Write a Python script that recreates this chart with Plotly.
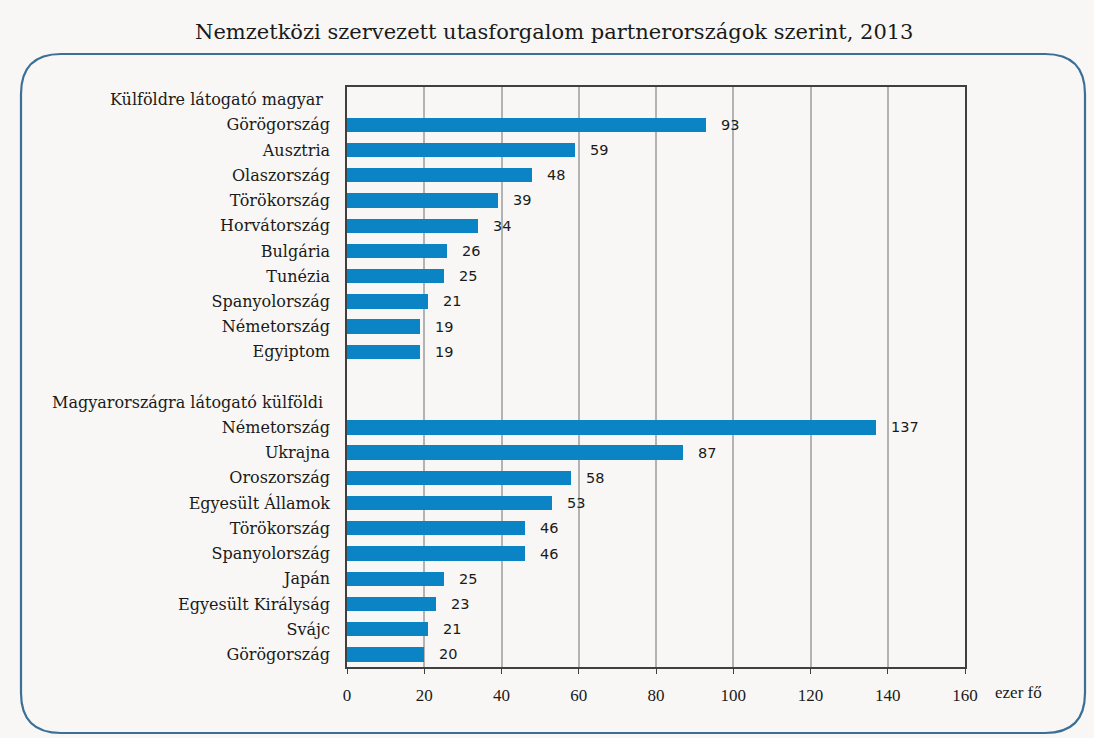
import plotly.graph_objects as go

title = "Nemzetközi szervezett utasforgalom partnerországok szerint, 2013"
group1_header = "Külföldre látogató magyar"
group1_countries = ["Görögország", "Ausztria", "Olaszország", "Törökország", "Horvátország",
                    "Bulgária", "Tunézia", "Spanyolország", "Németország", "Egyiptom"]
group1_values = [93, 59, 48, 39, 34, 26, 25, 21, 19, 19]
group2_header = "Magyarországra látogató külföldi"
group2_countries = ["Németország", "Ukrajna", "Oroszország", "Egyesült Államok", "Törökország",
                    "Spanyolország", "Japán", "Egyesült Királyság", "Svájc", "Görögország"]
group2_values = [137, 87, 58, 53, 46, 46, 25, 23, 21, 20]
x_ticks = [0, 20, 40, 60, 80, 100, 120, 140, 160]
unit_label = "ezer fő"

# row layout: header, countries..., blank, header, countries...
rows = [("h", group1_header, None)]
rows += [("c", c, v) for c, v in zip(group1_countries, group1_values)]
rows += [("b", "", None)]
rows += [("h", group2_header, None)]
rows += [("c", c, v) for c, v in zip(group2_countries, group2_values)]

bar_y = [i for i, r in enumerate(rows) if r[0] == "c"]
bar_x = [r[2] for r in rows if r[0] == "c"]
bar_lbl = [r[1] for r in rows if r[0] == "c"]
header_y = [i for i, r in enumerate(rows) if r[0] == "h"]
header_txt = [r[1] for r in rows if r[0] == "h"]

BG = "#f8f7f5"
TXT = "#1a1a1a"
BAR = "#0b84c6"

W, H = 1094, 738
L, R, T, B = 347, 129, 87, 71
PW, PH = W - L - R, H - T - B

def px(xp):
    return (xp - L) / PW

def py(yp):
    return (H - B - yp) / PH

fig = go.Figure()
fig.add_trace(go.Bar(
    x=bar_x, y=bar_y, orientation="h", marker=dict(color=BAR, line=dict(width=0)),
    width=0.57, hoverinfo="skip",
))

annotations = []
for xv, yv in zip(bar_x, bar_y):
    annotations.append(dict(x=xv, y=yv, xref="x", yref="y", text=str(xv), showarrow=False,
                            xanchor="left", yanchor="middle", xshift=13,
                            font=dict(family="DejaVu Sans", size=14.5, color=TXT)))
for t, yv in zip(header_txt, header_y):
    annotations.append(dict(x=px(325), y=yv, xref="paper", yref="y", text=t, showarrow=False,
                            xanchor="right", yanchor="middle",
                            font=dict(family="DejaVu Serif", size=16, color=TXT)))
annotations.append(dict(x=px(993), y=py(692), xref="paper", yref="paper", text=unit_label,
                        showarrow=False, xanchor="left", yanchor="middle",
                        font=dict(family="Liberation Serif", size=17, color=TXT)))
annotations.append(dict(x=px(554), y=py(32), xref="paper", yref="paper", text=title,
                        showarrow=False, xanchor="center", yanchor="middle",
                        font=dict(family="DejaVu Serif", size=21, color=TXT)))

# rounded frame
x0, x1 = px(21), px(1085)
y0, y1 = py(733), py(54)
rx, ry = 40 / PW, 40 / PH
path = (f"M {x0+rx},{y1} L {x1-rx},{y1} Q {x1},{y1} {x1},{y1-ry} "
        f"L {x1},{y0+ry} Q {x1},{y0} {x1-rx},{y0} L {x0+rx},{y0} "
        f"Q {x0},{y0} {x0},{y0+ry} L {x0},{y1-ry} Q {x0},{y1} {x0+rx},{y1} Z")

fig.update_layout(
    width=W, height=H, margin=dict(l=L, r=R, t=T, b=B),
    paper_bgcolor=BG, plot_bgcolor=BG, showlegend=False, bargap=0,
    annotations=annotations,
    shapes=[dict(type="path", path=path, xref="paper", yref="paper",
                 line=dict(color="#3b6f96", width=2.2), fillcolor="rgba(0,0,0,0)")],
    xaxis=dict(range=[0, 160], tickvals=x_ticks, showgrid=True, gridcolor="#b3b3b3",
               gridwidth=1.5, zeroline=False, showline=True, mirror=True,
               linecolor="#404040", linewidth=1.5, ticks="outside", ticklen=5,
               tickcolor="#404040", tickwidth=1, ticklabelstandoff=7,
               tickfont=dict(family="Liberation Serif", size=17, color=TXT), fixedrange=True),
    yaxis=dict(range=[len(rows) - 0.5, -0.5], tickvals=bar_y, ticktext=bar_lbl,
               showgrid=False, zeroline=False, showline=True, mirror=True,
               linecolor="#404040", linewidth=1.5, ticks="", ticklabelstandoff=12,
               tickfont=dict(family="DejaVu Serif", size=16, color=TXT), fixedrange=True),
)

fig.write_html("out.html")
